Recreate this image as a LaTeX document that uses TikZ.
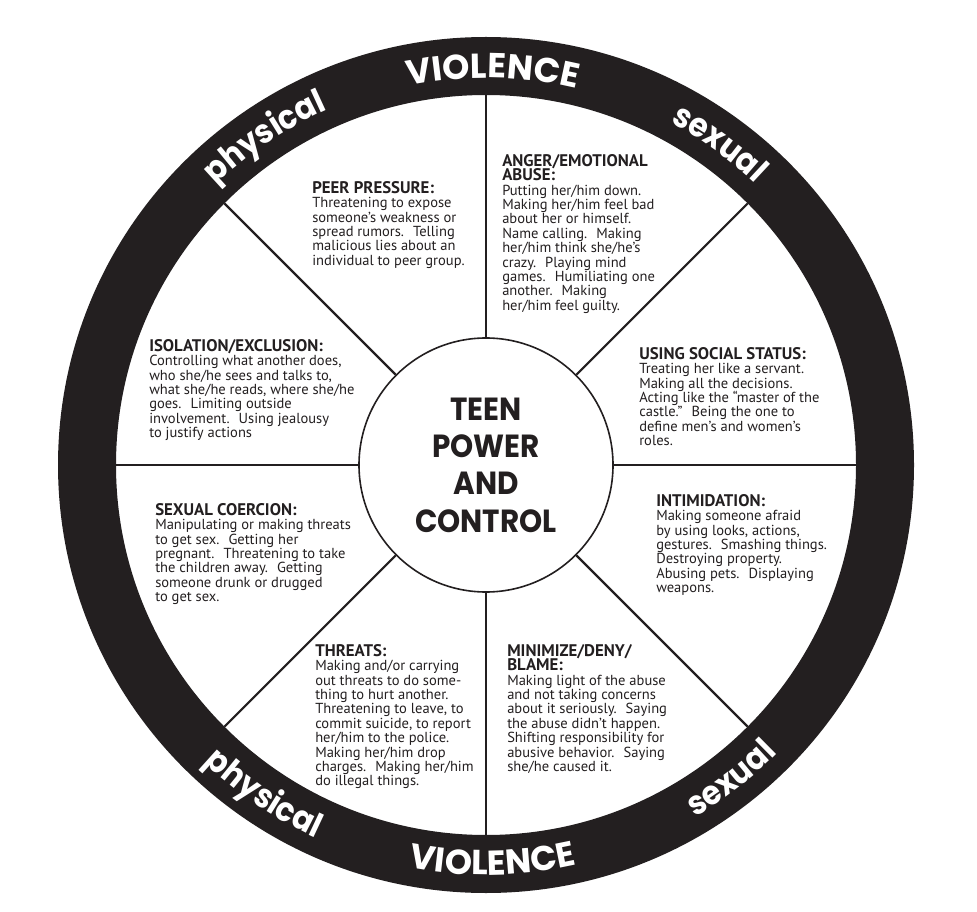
\documentclass[tikz,border=0pt]{standalone}
\usepackage{fontspec}
\setmainfont{PT Sans}
\newfontfamily\geo{Poppins}[FakeStretch=0.92]
\newfontfamily\geow{Poppins}
\usetikzlibrary{decorations.text}
\definecolor{ink}{HTML}{231F20}
\newcommand\ringfont{\geo\bfseries\fontsize{25pt}{25pt}\selectfont}
\newcommand\violfont{\geow\bfseries\fontsize{26pt}{26pt}\selectfont}
\newcommand\hubfont{\geo\bfseries\fontsize{24pt}{28pt}\selectfont}
\newcommand\bodyfont{\fontsize{10.9pt}{10.8pt}\selectfont}
\newcommand\hd[1]{{\bfseries\fontsize{12.6pt}{10.8pt}\selectfont #1}}
\tikzset{
  blk/.style={anchor=north west, inner sep=0pt, align=left, font=\bodyfont, text=ink},
  spoke/.style={draw=ink, line width=1.6pt},
  ringtext/.style={decorate, decoration={text along path, text align=center, text color=white, text={#1}}}
}
\begin{document}
\begin{tikzpicture}[x=0.75pt,y=-0.75pt]
\useasboundingbox (0,0) rectangle (977,912);
\fill[white] (0,0) rectangle (977,912);
\begin{scope}[shift={(486,465)},x=0.75pt,y=0.75pt]
  \fill[ink,even odd rule] (0,0) circle[radius=428] (0,0) circle[radius=370];
  \node[circle, draw=ink, line width=1.2pt, minimum size=190.5pt, inner sep=0pt,
        align=center, font=\hubfont, text=ink] (hub) at (0,0) {TEEN\\POWER\\AND\\CONTROL};
  \foreach \a in {0,45,...,315} {
    \coordinate (r\a) at (\a:370);
    \draw[spoke] (hub.\a) -- (r\a);
  }
  % ring labels, top (clockwise) and bottom (counter-clockwise)
  \path[ringtext={|\violfont|VIOLENCE}] (111:387) arc[start angle=111, end angle=67, radius=387];
  \path[ringtext={|\ringfont|physical}] (146:389) arc[start angle=146, end angle=102, radius=389];
  \path[ringtext={|\ringfont|sexual}] (76:389) arc[start angle=76, end angle=32, radius=389];
  \path[ringtext={|\violfont|VIOLENCE}] (249:410) arc[start angle=249, end angle=293, radius=410];
  \path[ringtext={|\ringfont|physical}] (214:410) arc[start angle=214, end angle=258, radius=410];
  \path[ringtext={|\ringfont|sexual}] (286:410) arc[start angle=286, end angle=330, radius=410];
\end{scope}

\node[blk] (peer) at (312,181) {\hd{PEER PRESSURE:}\\
Threatening to expose\\
someone’s weakness or\\
spread rumors. ~Telling\\
malicious lies about an\\
individual to peer group.};

\node[blk] (anger) at (502,154) {\hd{ANGER/EMOTIONAL}\\
\hd{ABUSE:}\\
Putting her/him down.\\
Making her/him feel bad\\
about her or himself.\\
Name calling. ~Making\\
her/him think she/he’s\\
crazy. ~Playing mind\\
games. ~Humiliating one\\
another. ~Making\\
her/him feel guilty.};

\node[blk] (isol) at (149,339) {\hd{ISOLATION/EXCLUSION:}\\
Controlling what another does,\\
who she/he sees and talks to,\\
what she/he reads, where she/he\\
goes. ~Limiting outside\\
involvement. ~Using jealousy\\
to justify actions};

\node[blk] (coerc) at (155,503) {\hd{SEXUAL COERCION:}\\
Manipulating or making threats\\
to get sex. ~Getting her\\
pregnant. ~Threatening to take\\
the children away. ~Getting\\
someone drunk or drugged\\
to get sex.};

\node[blk] (status) at (639,347) {\hd{USING SOCIAL STATUS:}\\
Treating her like a servant.\\
Making all the decisions.\\
Acting like the “master of the\\
castle.” ~Being the one to\\
define men’s and women’s\\
roles.};

\node[blk] (intim) at (656,494) {\hd{INTIMIDATION:}\\
Making someone afraid\\
by using looks, actions,\\
gestures. ~Smashing things.\\
Destroying property.\\
Abusing pets. ~Displaying\\
weapons.};

\node[blk] (threats) at (315,644) {\hd{THREATS:}\\
Making and/or carrying\\
out threats to do some-\\
thing to hurt another.\\
Threatening to leave, to\\
commit suicide, to report\\
her/him to the police.\\
Making her/him drop\\
charges. ~Making her/him\\
do illegal things.};

\node[blk] (minim) at (507,644) {\hd{MINIMIZE/DENY/}\\
\hd{BLAME:}\\
Making light of the abuse\\
and not taking concerns\\
about it seriously. ~Saying\\
the abuse didn’t happen.\\
Shifting responsibility for\\
abusive behavior. ~Saying\\
she/he caused it.};
\end{tikzpicture}
\end{document}
